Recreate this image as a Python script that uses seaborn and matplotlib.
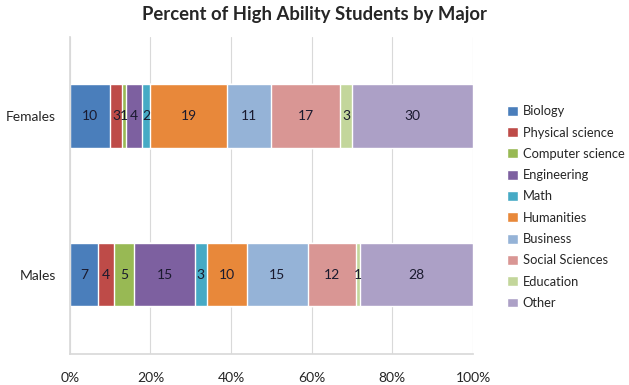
import numpy as np
import pandas as pd
import matplotlib
matplotlib.use("Agg")
import matplotlib.pyplot as plt
import seaborn as sns
from matplotlib.patches import Patch

groups = ["Females", "Males"]
majors = ["Biology", "Physical science", "Computer science", "Engineering", "Math",
          "Humanities", "Business", "Social Sciences", "Education", "Other"]
females = [10, 3, 1, 4, 2, 19, 11, 17, 3, 30]
males = [7, 4, 5, 15, 3, 10, 15, 12, 1, 28]
colors = ["#4A7EBB", "#BE4B48", "#98B954", "#7D60A0", "#46AAC5",
          "#E8883A", "#95B3D7", "#D99694", "#C3D69B", "#ACA0C6"]
xticks = [0, 20, 40, 60, 80, 100]

sns.set_theme(style="white")
plt.rcParams["font.family"] = ["Lato", "DejaVu Sans"]

df = pd.DataFrame({"group": np.repeat(groups, len(majors)),
                   "major": majors * len(groups),
                   "value": females + males})
df["cum"] = df.groupby("group")["value"].cumsum()

fig = plt.figure(figsize=(6.29, 3.85), dpi=100)
ax = fig.add_axes([0.111, 0.081, 0.641, 0.823])

# stacked bars: draw cumulative widths from the last segment backwards
for major, color in reversed(list(zip(majors, colors))):
    sub = df[df["major"] == major]
    sns.barplot(data=sub, x="cum", y="group", order=groups, color=color,
                width=0.4, saturation=1, ax=ax, zorder=2)

for _, row in df.iterrows():
    yi = groups.index(row["group"])
    ax.text(row["cum"] - row["value"] / 2, yi, str(row["value"]),
            ha="center", va="center", fontsize=10, color="#1a1a2e", zorder=3)

ax.set_xlim(0, 100)
ax.set_ylim(1.5, -0.5)
ax.set_xticks(xticks)
ax.set_xticklabels([f"{t}%" for t in xticks], fontsize=10)
ax.set_yticks([0, 0.5, 1])
ax.set_yticklabels(["Females", "", "Males"], fontsize=10)
ax.set_xlabel("")
ax.set_ylabel("")
ax.grid(axis="x", color="#D9D9D9", lw=0.8, zorder=0)
ax.set_axisbelow(True)
for s in ["top", "right"]:
    ax.spines[s].set_visible(False)
for s in ["left", "bottom"]:
    ax.spines[s].set_color("#D9D9D9")
ax.tick_params(axis="x", length=3, color="#D9D9D9", pad=10)
ax.tick_params(axis="y", length=0, pad=10)

handles = [Patch(facecolor=c, label=m) for m, c in zip(majors, colors)]
fig.legend(handles=handles, loc="center left", bbox_to_anchor=(0.788, 0.462),
           frameon=False, fontsize=9.3, handlelength=0.8, handleheight=0.8,
           handletextpad=0.4, labelspacing=0.72)

fig.suptitle("Percent of High Ability Students by Major", fontsize=13.3,
             fontweight="bold", y=0.985)

fig.savefig("out.png", dpi=100)
